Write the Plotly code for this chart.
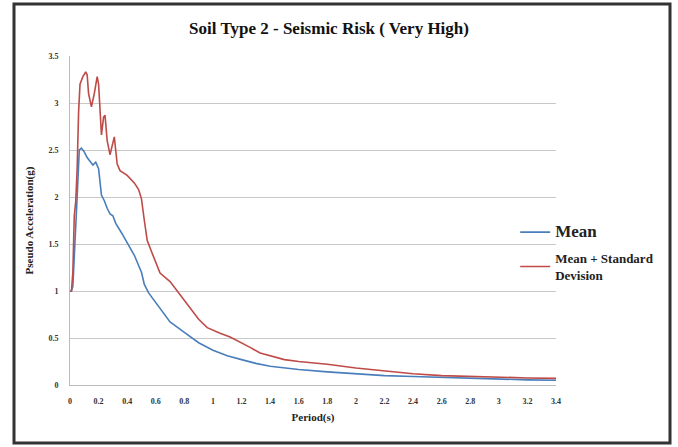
import plotly.graph_objects as go

# Period (s) and pseudo acceleration (g)
mean_x = [0.0, 0.01, 0.02, 0.035, 0.05, 0.065, 0.08, 0.09, 0.10, 0.12, 0.14, 0.16, 0.18, 0.20,
          0.22, 0.24, 0.26, 0.28, 0.30, 0.32, 0.36, 0.40, 0.45, 0.50, 0.52, 0.55, 0.60, 0.65,
          0.70, 0.80, 0.90, 1.0, 1.1, 1.2, 1.3, 1.4, 1.6, 1.8, 2.0, 2.2, 2.4, 2.6, 2.8, 3.0,
          3.2, 3.4]
mean_y = [1.0, 1.0, 1.05, 1.6, 2.0, 2.5, 2.52, 2.5, 2.48, 2.42, 2.38, 2.34, 2.37, 2.3,
          2.02, 1.96, 1.88, 1.82, 1.80, 1.72, 1.62, 1.52, 1.38, 1.2, 1.07, 0.98, 0.88, 0.77,
          0.67, 0.56, 0.45, 0.37, 0.31, 0.27, 0.23, 0.2, 0.165, 0.14, 0.12, 0.1, 0.09, 0.08,
          0.07, 0.062, 0.055, 0.05]

sd_x = [0.0, 0.01, 0.02, 0.03, 0.04, 0.05, 0.06, 0.07, 0.09, 0.11, 0.12, 0.13, 0.15, 0.17,
        0.19, 0.20, 0.22, 0.235, 0.245, 0.26, 0.28, 0.30, 0.31, 0.33, 0.35, 0.40, 0.45,
        0.48, 0.50, 0.52, 0.54, 0.57, 0.63, 0.70, 0.75, 0.80, 0.85, 0.90, 0.96, 1.0, 1.05,
        1.12, 1.2, 1.26, 1.33, 1.4, 1.5, 1.6, 1.8, 2.0, 2.2, 2.4, 2.6, 2.8, 3.0, 3.2, 3.4]
sd_y = [1.0, 1.0, 1.2, 1.8, 1.95, 2.3, 2.9, 3.2, 3.28, 3.33, 3.3, 3.1, 2.96, 3.1,
        3.28, 3.2, 2.66, 2.85, 2.87, 2.6, 2.45, 2.6, 2.64, 2.35, 2.28, 2.23, 2.15,
        2.08, 1.98, 1.75, 1.54, 1.42, 1.19, 1.1, 1.0, 0.9, 0.8, 0.7, 0.61, 0.58, 0.55,
        0.51, 0.45, 0.4, 0.34, 0.31, 0.27, 0.25, 0.22, 0.18, 0.15, 0.12, 0.1, 0.09, 0.08,
        0.075, 0.07]

x_ticks = [0, 0.2, 0.4, 0.6, 0.8, 1, 1.2, 1.4, 1.6, 1.8, 2, 2.2, 2.4, 2.6, 2.8, 3, 3.2, 3.4]
y_ticks = [0, 0.5, 1, 1.5, 2, 2.5, 3, 3.5]

SERIF = "Liberation Serif, Times New Roman, serif"

fig = go.Figure()
fig.add_trace(go.Scatter(x=mean_x, y=mean_y, mode="lines", legendgroup="a",
                         name="<b><span style='font-size:17px'>Mean</span></b>",
                         line=dict(color="#4a7ebb", width=1.6)))
fig.add_trace(go.Scatter(x=sd_x, y=sd_y, mode="lines", legendgroup="b",
                         name="<b>Mean + Standard<br>Devision</b>",
                         line=dict(color="#be4b48", width=1.6)))

fig.update_layout(
    width=678, height=447,
    margin=dict(l=70, r=122, t=56, b=62),
    paper_bgcolor="white", plot_bgcolor="white",
    font=dict(family=SERIF, color="#222"),
    title=dict(text="<b>Soil Type 2 - Seismic Risk ( Very High)</b>",
               x=329 / 678, xanchor="center", y=1 - 28 / 447, yanchor="middle",
               font=dict(size=17, family=SERIF, color="#111")),
    showlegend=True,
    legend=dict(x=0.916, y=0.51, xanchor="left", yanchor="top",
                font=dict(size=13, family=SERIF, color="#222"),
                bgcolor="rgba(0,0,0,0)", itemwidth=30, tracegroupgap=6,
                traceorder="grouped"),
    xaxis=dict(range=[0, 3.4], tickvals=x_ticks,
               ticktext=["<b>%s</b>" % t for t in x_ticks],
               showgrid=False, zeroline=False, showline=True, linecolor="#bbbbbb",
               linewidth=1, tickfont=dict(size=8, family=SERIF, color="#333"),
               ticks="", ticklabelstandoff=8,
               title=dict(text="<b>Period(s)</b>", font=dict(size=11, family=SERIF),
                          standoff=8)),
    yaxis=dict(range=[0, 3.5], tickvals=y_ticks,
               ticktext=["<b>%s</b>" % t for t in y_ticks],
               showgrid=True, gridcolor="#c8c8c8", gridwidth=1, zeroline=False,
               showline=True, linecolor="#bbbbbb", linewidth=1,
               tickfont=dict(size=8, family=SERIF, color="#333"), ticks="",
               ticklabelstandoff=9,
               title=dict(text="<b>Pseudo Acceleration(g)</b>",
                          font=dict(size=11, family=SERIF), standoff=12)),
)

# outer chart frame
fig.add_shape(type="rect", xref="paper", yref="paper",
              x0=(14 - 70) / 486, x1=(670 - 70) / 486,
              y0=(385 - 443) / 329, y1=(385 - 4) / 329,
              line=dict(color="#333333", width=3), fillcolor="rgba(0,0,0,0)", layer="below")

fig.write_html("out.html", config={"displayModeBar": False},
               post_script="document.body.style.margin='0';document.body.style.overflow='hidden';")
